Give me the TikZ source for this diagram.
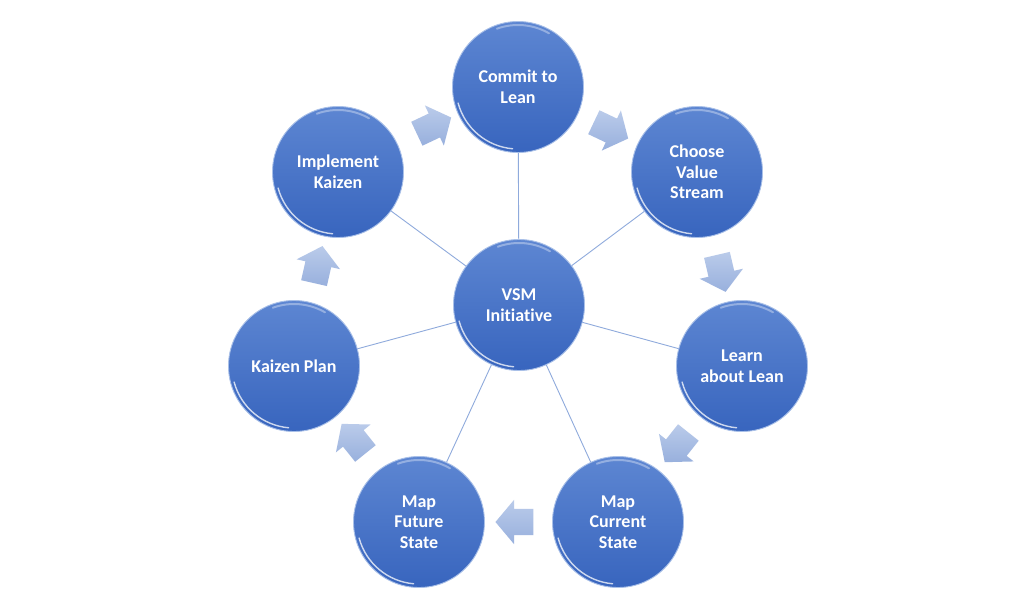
\documentclass[tikz,border=0pt]{standalone}
\usepackage{fontspec}
\setmainfont{Carlito}[Ligatures={NoCommon}]
\usetikzlibrary{shapes.arrows,backgrounds}
\definecolor{ballTop}{HTML}{5D86D2}
\definecolor{ballBot}{HTML}{3865BE}
\definecolor{ballRim}{HTML}{A9C0E8}
\definecolor{spokec}{HTML}{8FAADC}
\definecolor{arrTop}{HTML}{BACBEA}
\definecolor{arrBot}{HTML}{98B0DD}
\begin{document}
\begin{tikzpicture}[x=1pt,y=-1pt,
  ball/.style={circle, minimum size=131pt, inner sep=0pt,
    top color=ballTop, bottom color=ballBot, draw=ballRim, line width=0.9pt,
    text=white, font=\fontsize{18}{20.5}\selectfont\bfseries, align=center,
    path picture={
      \draw[white, opacity=0.75, line width=1.4pt, line cap=round]
        (path picture bounding box.center) ++(195:62pt)
        arc[start angle=195, end angle=265, radius=62pt];
      \draw[white, opacity=0.35, line width=2pt, line cap=round]
        (path picture bounding box.center) ++(60:62pt)
        arc[start angle=60, end angle=110, radius=62pt];
    }},
  flowarrow/.style={single arrow, minimum height=38pt, inner xsep=0pt,
    inner ysep=13pt, single arrow head extend=9pt, single arrow tip angle=100,
    top color=arrTop, bottom color=arrBot, draw=none},
  spoke/.style={draw=spokec, line width=0.9pt}]
\useasboundingbox (0,0) rectangle (1035,609);

\node[ball] (vsm) at (519,305) {VSM\\Initiative};
\node[ball] (commit) at (518,87) {Commit to\\Lean};
\node[ball] (choose) at (697,172) {Choose\\Value\\Stream};
\node[ball] (learn) at (742,366) {Learn\\about Lean};
\node[ball] (mapcur) at (618,522) {Map\\Current\\State};
\node[ball] (mapfut) at (419,522) {Map\\Future\\State};
\node[ball] (kplan) at (294,366) {Kaizen Plan};
\node[ball] (impl) at (338,172) {Implement\\Kaizen};

\begin{scope}[on background layer]
  \fill[white] (0,0) rectangle (1035,609);
  \foreach \n in {commit,choose,learn,mapcur,mapfut,kplan,impl}
    \draw[spoke] (vsm.center) -- (\n.center);
\end{scope}

\node[flowarrow, rotate=-25.4] (a1) at (606,128) {};
\node[flowarrow, rotate=-76.9] (a2) at (720,268) {};
\node[flowarrow, rotate=-128.5] (a3) at (680,443) {};
\node[flowarrow, rotate=180] (a4) at (520,522) {};
\node[flowarrow, rotate=128.7] (a5) at (357,443) {};
\node[flowarrow, rotate=77.2] (a6) at (317,270) {};
\node[flowarrow, rotate=25.3] (a7) at (429,128) {};
\end{tikzpicture}
\end{document}
